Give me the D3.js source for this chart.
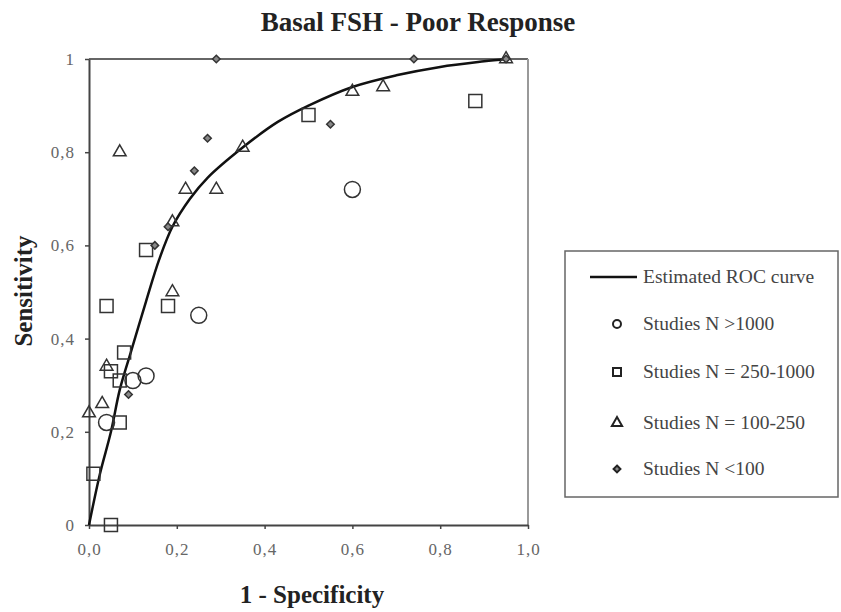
<!DOCTYPE html>
<html>
<head>
<meta charset="utf-8">
<script src="https://cdn.jsdelivr.net/npm/d3@7"></script>
<style>
  body { margin: 0; background: #fff; }
  text { font-family: "Liberation Serif", "Times New Roman", serif; }
</style>
</head>
<body>
<div id="vis"></div>
<script>
// Size of the picture
const width = 841, height = 612;

// Plot area in pixels
const plot = { left: 89, right: 528, top: 59, bottom: 525 };

// Tick labels
const xTicks = [0, 0.2, 0.4, 0.6, 0.8, 1.0];
const yTicks = [0, 0.2, 0.4, 0.6, 0.8, 1];

// Estimated ROC curve
const rocX = [0, 0.025, 0.05, 0.07, 0.095, 0.13, 0.16, 0.19, 0.23, 0.27, 0.35, 0.43, 0.5, 0.6, 0.7, 0.8, 0.9, 0.95];
const rocY = [0, 0.11, 0.20, 0.29, 0.37, 0.48, 0.57, 0.64, 0.70, 0.745, 0.81, 0.865, 0.9, 0.94, 0.965, 0.983, 0.995, 1.0];

// Studies, [1 - specificity, sensitivity]
const studiesOver1000 = [[0.04, 0.22], [0.10, 0.31], [0.13, 0.32], [0.25, 0.45], [0.60, 0.72]];
const studies250to1000 = [[0.01, 0.11], [0.05, 0.00], [0.07, 0.22], [0.04, 0.47], [0.05, 0.33], [0.07, 0.31],
  [0.08, 0.37], [0.13, 0.59], [0.18, 0.47], [0.50, 0.88], [0.88, 0.91]];
const studies100to250 = [[0.00, 0.24], [0.03, 0.26], [0.04, 0.34], [0.07, 0.80], [0.19, 0.50], [0.19, 0.65],
  [0.22, 0.72], [0.29, 0.72], [0.35, 0.81], [0.60, 0.93], [0.67, 0.94], [0.95, 1.00]];
const studiesUnder100 = [[0.09, 0.28], [0.15, 0.60], [0.18, 0.64], [0.24, 0.76], [0.27, 0.83], [0.55, 0.86],
  [0.29, 1.00], [0.74, 1.00], [0.95, 1.00]];

const legendLabels = ["Estimated ROC curve", "Studies N >1000", "Studies N = 250-1000", "Studies N = 100-250", "Studies N <100"];

const svg = d3.select("#vis").append("svg")
  .attr("width", width)
  .attr("height", height);

const xScale = d3.scaleLinear().domain([0, 1]).range([plot.left, plot.right]);
const yScale = d3.scaleLinear().domain([0, 1]).range([plot.bottom, plot.top]);

// title
svg.append("text")
  .attr("x", 418).attr("y", 31)
  .attr("text-anchor", "middle")
  .style("font-size", "27px").style("font-weight", "bold").style("fill", "#222")
  .text("Basal FSH - Poor Response");

// frame: top line at sensitivity 1 and right border
svg.append("line")
  .attr("x1", xScale(0)).attr("x2", xScale(1))
  .attr("y1", yScale(1)).attr("y2", yScale(1))
  .attr("stroke", "#333").attr("stroke-width", 1.5);
svg.append("line")
  .attr("x1", xScale(1)).attr("x2", xScale(1))
  .attr("y1", yScale(0)).attr("y2", yScale(1))
  .attr("stroke", "#999").attr("stroke-width", 2);

const commaFmt = d => d.toFixed(1).replace(".", ",");

const xAxis = svg.append("g")
  .attr("transform", `translate(0,${plot.bottom})`)
  .call(d3.axisBottom(xScale).tickValues(xTicks).tickFormat(commaFmt).tickSize(4).tickSizeOuter(0).tickPadding(14));

const yAxis = svg.append("g")
  .attr("transform", `translate(${plot.left},0)`)
  .call(d3.axisLeft(yScale).tickValues(yTicks)
    .tickFormat(d => (d === 0 || d === 1) ? String(d) : commaFmt(d))
    .tickSize(4).tickSizeOuter(0).tickPadding(10));

[xAxis, yAxis].forEach(ax => {
  ax.select(".domain").attr("stroke", "#444").attr("stroke-width", 2);
  ax.selectAll(".tick line").attr("stroke", "#444").attr("stroke-width", 1.5);
  ax.selectAll(".tick text")
    .style("font-family", "'Liberation Serif', serif")
    .style("font-size", "17px").style("fill", "#666")
    .style("letter-spacing", "1px");
});

// axis labels
svg.append("text")
  .attr("x", 312).attr("y", 603)
  .attr("text-anchor", "middle")
  .style("font-size", "25px").style("font-weight", "bold").style("fill", "#222")
  .text("1 - Specificity");

svg.append("text")
  .attr("transform", "translate(32,291) rotate(-90)")
  .attr("text-anchor", "middle")
  .style("font-size", "25px").style("font-weight", "bold").style("fill", "#222")
  .text("Sensitivity");

// ROC curve
const rocData = rocX.map((x, i) => [x, rocY[i]]);
svg.append("path")
  .datum(rocData)
  .attr("fill", "none")
  .attr("stroke", "#111")
  .attr("stroke-width", 2.5)
  .attr("d", d3.line()
    .x(d => xScale(d[0]))
    .y(d => yScale(d[1]))
    .curve(d3.curveCatmullRom.alpha(0.5)));

// markers
const groups = [
  { data: studiesOver1000, type: d3.symbolCircle, size: 200, fill: "none", legendSize: 50 },
  { data: studies250to1000, type: d3.symbolSquare, size: 169, fill: "none", legendSize: 64 },
  { data: studies100to250, type: d3.symbolTriangle, size: 70, fill: "none", legendSize: 45 },
  { data: studiesUnder100, type: d3.symbolDiamond2, size: 36, fill: "#888", legendSize: 30 },
];

groups.forEach(g => {
  svg.append("g").selectAll("path")
    .data(g.data)
    .enter()
    .append("path")
    .attr("transform", d => `translate(${xScale(d[0])},${yScale(d[1])})`)
    .attr("d", d3.symbol().type(g.type).size(g.size))
    .attr("fill", g.fill)
    .attr("stroke", "#333")
    .attr("stroke-width", 1.5);
});

// legend
const legend = svg.append("g");
legend.append("rect")
  .attr("x", 565).attr("y", 251)
  .attr("width", 273).attr("height", 246)
  .attr("fill", "#fff")
  .attr("stroke", "#666").attr("stroke-width", 1.5);

const rowY = [277, 324, 372, 423, 469];

legend.append("line")
  .attr("x1", 590).attr("x2", 637)
  .attr("y1", rowY[0]).attr("y2", rowY[0])
  .attr("stroke", "#111").attr("stroke-width", 2.5);

groups.forEach((g, i) => {
  legend.append("path")
    .attr("transform", `translate(617,${rowY[i + 1]})`)
    .attr("d", d3.symbol().type(g.type).size(g.legendSize))
    .attr("fill", g.fill)
    .attr("stroke", "#222")
    .attr("stroke-width", 2);
});

legend.selectAll(".legend-label")
  .data(legendLabels)
  .enter()
  .append("text")
  .attr("class", "legend-label")
  .attr("x", 643)
  .attr("y", (d, i) => rowY[i] + 6)
  .style("font-size", "19.5px")
  .style("fill", "#444")
  .text(d => d);
</script>
</body>
</html>
